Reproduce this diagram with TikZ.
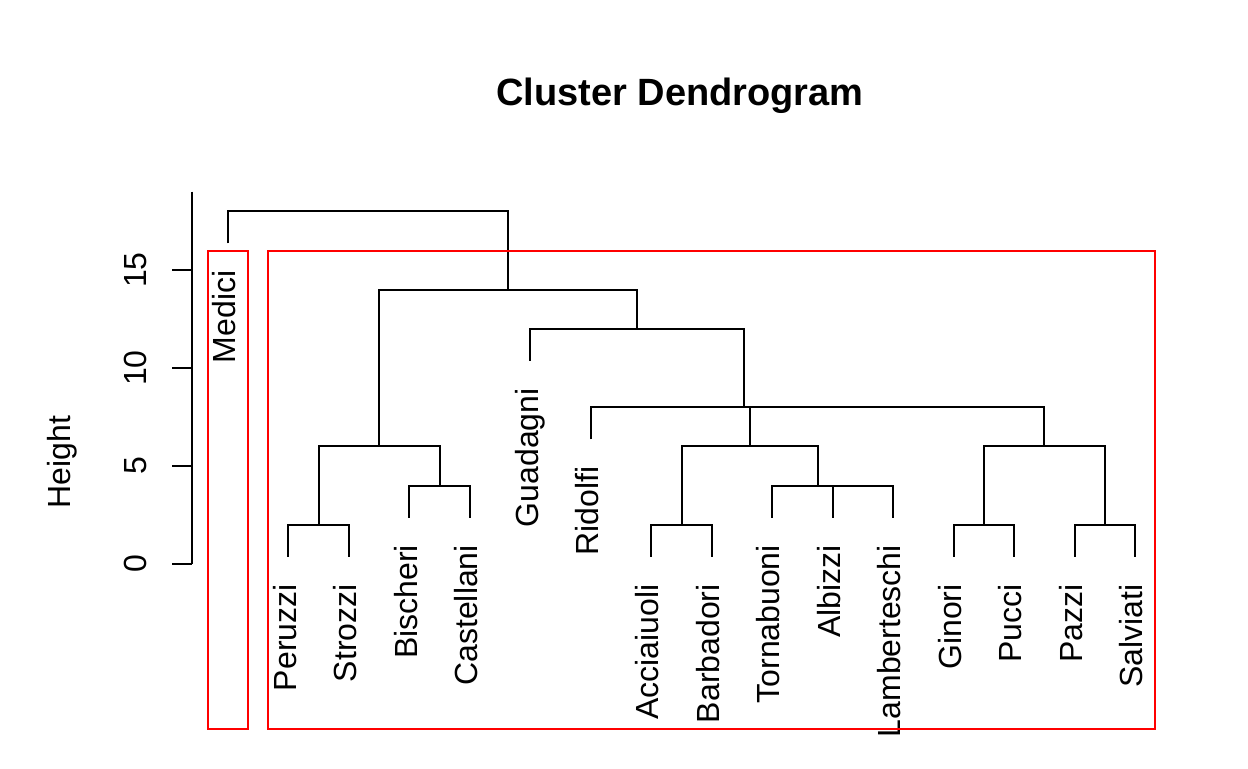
\documentclass[tikz,border=0pt]{standalone}
\usepackage{fontspec}
\setmainfont{Liberation Sans}
\usetikzlibrary{calc}

\begin{document}
\begin{tikzpicture}[x=0.5pt,y=-0.5pt]

\tikzset{branch/.style = {draw=black, line width=1pt}}
\tikzset{leaf/.style = {rotate=90, anchor=base east, inner sep=0pt, font=\fontsize{16}{19}\selectfont}}
\tikzset{cut/.style = {draw=red, line width=1pt}}
\useasboundingbox (0,0) rectangle (1248,768);

%title and axis
\node[anchor=base, inner sep=0pt, font=\bfseries\fontsize{19}{23}\selectfont] (title) at (680,105) {Cluster Dendrogram};
\coordinate (axtop) at (192.3,191.7);
\coordinate (axbot) at (192.3,564);
\draw[branch] (axtop) -- (axbot);
\foreach \v/\y in {0/564, 5/466, 10/368, 15/270} {
  \coordinate (tk\v) at (172.3,\y);
  \draw[branch] (tk\v) -- (192.3,\y);
  \node[rotate=90, anchor=base, inner sep=0pt, font=\fontsize{16}{19}\selectfont] (tl\v) at (146.7,\y) {\v};
}
\node[rotate=90, anchor=base, inner sep=0pt, font=\fontsize{16}{19}\selectfont] (ylab) at (70,462) {Height};

%leaves
\foreach \fam/\i/\e in {Medici/0/243.3, Peruzzi/1/556.9, Strozzi/2/556.9, Bischeri/3/517.7,
  Castellani/4/517.7, Guadagni/5/360.9, Ridolfi/6/439.3, Acciaiuoli/7/556.9, Barbadori/8/556.9,
  Tornabuoni/9/517.7, Albizzi/10/517.7, Lamberteschi/11/517.7, Ginori/12/556.9, Pucci/13/556.9,
  Pazzi/14/556.9, Salviati/15/556.9} {
  \coordinate (\fam) at ({228+60.47*\i},\e);
  \node[leaf] (lab\fam) at ({235.7+60.47*\i},{\e+27}) {\fam};
}

%merges
\coordinate (ps) at (318.7,524.8);
\coordinate (bc) at (439.65,485.6);
\coordinate (psbc) at (379.2,446.4);
\coordinate (ab) at (681.55,524.8);
\coordinate (al) at (862.95,485.6);
\coordinate (tal) at (817.6,485.6);
\coordinate (abtal) at (749.6,446.4);
\coordinate (gp) at (983.85,524.8);
\coordinate (pzs) at (1104.85,524.8);
\coordinate (gpps) at (1044.35,446.4);
\coordinate (xeight) at (897.0,407.2);
\coordinate (yeight) at (743.9,407.2);
\coordinate (gtwelve) at (637.15,328.8);
\coordinate (mfourteen) at (508.2,289.6);
\coordinate (root) at (368.1,211.2);

\draw[branch] (Peruzzi) |- (ps) -| (Strozzi);
\draw[branch] (Bischeri) |- (bc) -| (Castellani);
\draw[branch] (ps) |- (psbc) -| (bc);
\draw[branch] (Acciaiuoli) |- (ab) -| (Barbadori);
\draw[branch] (Albizzi) |- (al) -| (Lamberteschi);
\draw[branch] (Tornabuoni) |- (tal) -| (al);
\draw[branch] (ab) |- (abtal) -| (tal);
\draw[branch] (Ginori) |- (gp) -| (Pucci);
\draw[branch] (Pazzi) |- (pzs) -| (Salviati);
\draw[branch] (gp) |- (gpps) -| (pzs);
\draw[branch] (abtal) |- (xeight) -| (gpps);
\draw[branch] (Ridolfi) |- (yeight) -| (xeight);
\draw[branch] (Guadagni) |- (gtwelve) -| (yeight);
\draw[branch] (psbc) |- (mfourteen) -| (gtwelve);
\draw[branch] (Medici) |- (root) -| (mfourteen);

%cut boxes
\coordinate (boxa1) at (207.5,251);
\coordinate (boxa2) at (248,728.5);
\coordinate (boxb1) at (268,251);
\coordinate (boxb2) at (1154.5,728.5);
\draw[cut] (boxa1) rectangle (boxa2);
\draw[cut] (boxb1) rectangle (boxb2);

\end{tikzpicture}
\end{document}
